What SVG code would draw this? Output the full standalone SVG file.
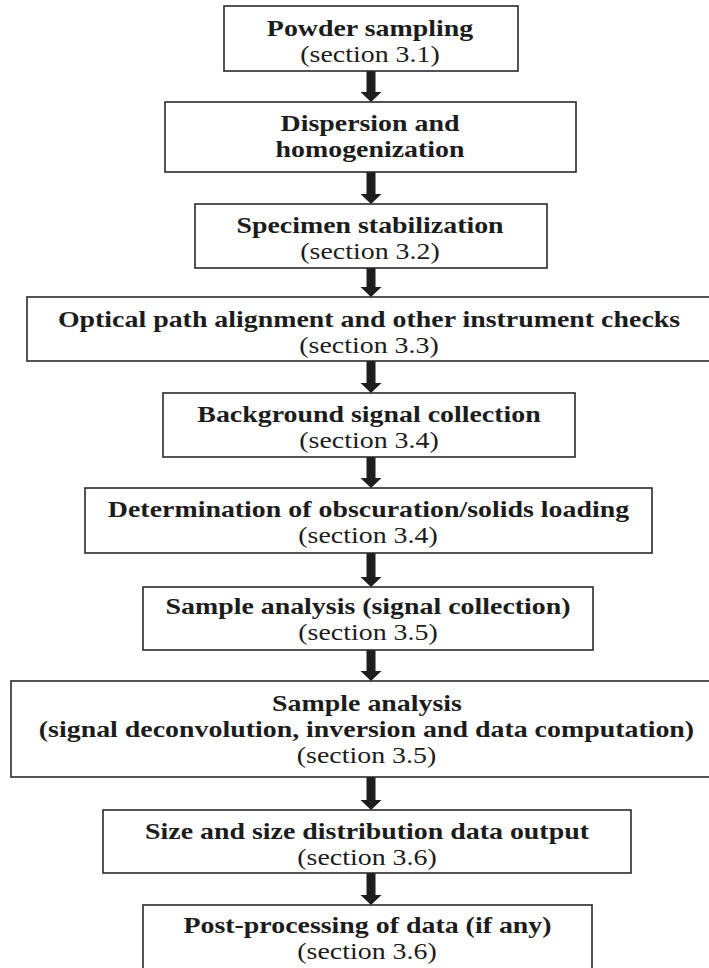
<svg xmlns="http://www.w3.org/2000/svg" width="709" height="968" viewBox="0 0 709 968">
<style>
.box{fill:#fff;stroke:#2a2a2a;stroke-width:1.6}
.t{font-family:"Liberation Serif","Times New Roman",serif;font-size:22.5px;fill:#1c1c1c;text-anchor:middle}
.b{font-weight:bold}
.arr{fill:#1e1e1e}
</style>
<rect width="709" height="968" fill="#fff"/>
<g id="connectors">
<path class="arr" d="M366.5 71V92H360.5L371 102L381.5 92H375.5V71Z"/>
<path class="arr" d="M366.5 172V194H360.5L371 204L381.5 194H375.5V172Z"/>
<path class="arr" d="M366.5 268V287H360.5L371 297L381.5 287H375.5V268Z"/>
<path class="arr" d="M366.5 361V383H360.5L371 393L381.5 383H375.5V361Z"/>
<path class="arr" d="M366.5 457V478H360.5L371 488L381.5 478H375.5V457Z"/>
<path class="arr" d="M366.5 553V577H360.5L371 587L381.5 577H375.5V553Z"/>
<path class="arr" d="M366.5 650V671H360.5L371 681L381.5 671H375.5V650Z"/>
<path class="arr" d="M366.5 777V800H360.5L371 810L381.5 800H375.5V777Z"/>
<path class="arr" d="M366.5 873V895H360.5L371 905L381.5 895H375.5V873Z"/>
</g>
<g id="n1">
<rect class="box" x="224" y="6" width="294" height="65"/>
<text class="t b" transform="matrix(1.24 0 0 1 370 35.5)">Powder sampling</text>
<text class="t" transform="matrix(1.24 0 0 1 370 62)">(section 3.1)</text>
</g>
<g id="n2">
<rect class="box" x="165" y="102" width="411" height="70"/>
<text class="t b" transform="matrix(1.24 0 0 1 370 131)">Dispersion and</text>
<text class="t b" transform="matrix(1.24 0 0 1 370 157)">homogenization</text>
</g>
<g id="n3">
<rect class="box" x="195" y="204" width="352" height="64"/>
<text class="t b" transform="matrix(1.24 0 0 1 370 232.5)">Specimen stabilization</text>
<text class="t" transform="matrix(1.24 0 0 1 370 258.5)">(section 3.2)</text>
</g>
<g id="n4">
<rect class="box" x="27" y="297" width="690" height="64"/>
<text class="t b" transform="matrix(1.24 0 0 1 369 326.5)">Optical path alignment and other instrument checks</text>
<text class="t" transform="matrix(1.24 0 0 1 369 352.5)">(section 3.3)</text>
</g>
<g id="n5">
<rect class="box" x="163" y="393" width="412" height="64"/>
<text class="t b" transform="matrix(1.24 0 0 1 369 421.5)">Background signal collection</text>
<text class="t" transform="matrix(1.24 0 0 1 369 447.5)">(section 3.4)</text>
</g>
<g id="n6">
<rect class="box" x="85" y="488" width="567" height="65"/>
<text class="t b" transform="matrix(1.24 0 0 1 368.5 517)">Determination of obscuration/solids loading</text>
<text class="t" transform="matrix(1.24 0 0 1 368 543)">(section 3.4)</text>
</g>
<g id="n7">
<rect class="box" x="143" y="587" width="450" height="63"/>
<text class="t b" transform="matrix(1.24 0 0 1 368 613.5)">Sample analysis (signal collection)</text>
<text class="t" transform="matrix(1.24 0 0 1 368 640)">(section 3.5)</text>
</g>
<g id="n8">
<rect class="box" x="11" y="681" width="710" height="96"/>
<text class="t b" transform="matrix(1.24 0 0 1 367 711)">Sample analysis</text>
<text class="t b" transform="matrix(1.24 0 0 1 366.5 737)">(signal deconvolution, inversion and data computation)</text>
<text class="t" transform="matrix(1.24 0 0 1 366.5 763)">(section 3.5)</text>
</g>
<g id="n9">
<rect class="box" x="103" y="810" width="528" height="63"/>
<text class="t b" transform="matrix(1.24 0 0 1 367 838.5)">Size and size distribution data output</text>
<text class="t" transform="matrix(1.24 0 0 1 367 864.5)">(section 3.6)</text>
</g>
<g id="n10">
<rect class="box" x="143" y="905" width="449" height="66"/>
<text class="t b" transform="matrix(1.24 0 0 1 367.5 932.5)">Post-processing of data (if any)</text>
<text class="t" transform="matrix(1.24 0 0 1 367 959)">(section 3.6)</text>
</g>
</svg>
